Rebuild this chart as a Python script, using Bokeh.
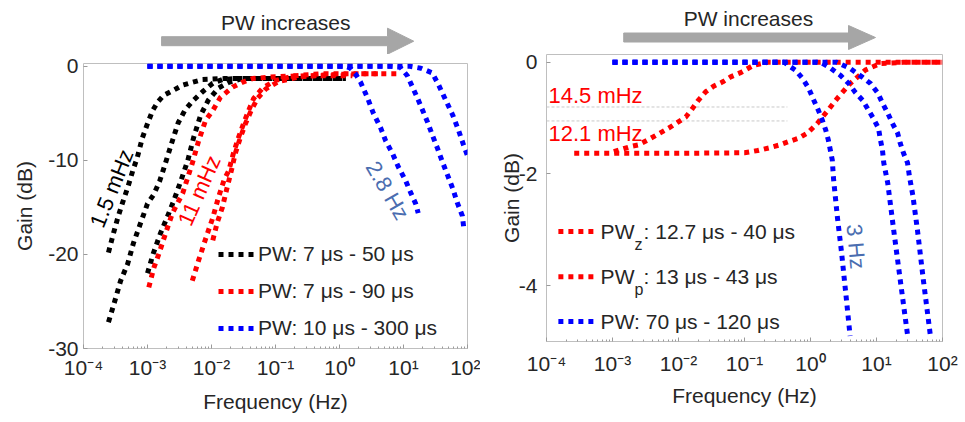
from bokeh.plotting import figure
from bokeh.layouts import row, column
from bokeh.models import (Range1d, FixedTicker, Label, Legend, LegendItem)
from bokeh.core.properties import value
from bokeh.embed import file_html
from bokeh.resources import INLINE

FONT = "Liberation Sans"
TXT = "#262626"
BLACK, RED, BLUE = "#000000", "#ff0000", "#0000ff"
LBLUE = "#4a6db0"
GRAY_ARROW = "#a6a6a6"

# ---------------- data: panel (a)  (log10 frequency, gain dB) ----------------
a_k1_lf = [-3.61, -3.53, -3.46, -3.39, -3.31, -3.23, -3.16, -3.08, -3.0, -2.92, -2.84,
           -2.75, -2.61, -2.45, -2.3, -2.14, -1.8, -1.0, 0.1]
a_k1_g = [-19.8, -17.7, -16.0, -14.5, -12.9, -11.1, -9.7, -7.6, -6.1, -4.7, -3.8,
          -3.1, -2.6, -2.0, -1.7, -1.4, -1.3, -1.3, -1.3]
a_k2_lf = [-3.61, -3.53, -3.42, -3.31, -3.22, -3.11, -3.0, -2.9, -2.81, -2.72, -2.61,
           -2.52, -2.41, -2.28, -2.14, -1.98, -1.83, -1.6, -1.0, 0.1]
a_k2_g = [-27.2, -25.4, -22.8, -21.0, -18.8, -16.7, -14.6, -13.6, -12.2, -10.3, -7.9,
          -6.0, -4.6, -3.6, -2.7, -1.8, -1.4, -1.3, -1.3, -1.3]
a_k3_lf = [-3.0, -2.91, -2.8, -2.69, -2.59, -2.48, -2.37, -2.28, -2.17, -2.05, -1.89,
           -1.73, -1.52, -1.0, 0.1]
a_k3_g = [-22.0, -19.9, -17.8, -16.0, -14.3, -12.2, -10.0, -7.6, -5.2, -3.6, -2.3,
          -1.7, -1.3, -1.3, -1.3]
a_r1_lf = [-2.98, -2.9, -2.82, -2.72, -2.61, -2.45, -2.3, -2.2, -2.09, -1.98, -1.86,
           -1.67, -1.52, -1.36, -1.0, -0.5, 0.2]
a_r1_g = [-23.5, -21.4, -19.9, -17.8, -15.6, -13.5, -10.3, -7.9, -5.7, -4.7, -3.3,
          -2.2, -1.7, -1.3, -1.1, -1.0, -1.0]
a_r2_lf = [-2.3, -2.2, -2.09, -1.98, -1.89, -1.8, -1.73, -1.66, -1.58, -1.5, -1.42,
           -1.34, -1.2, -1.0, -0.7, -0.3, 0.6]
a_r2_g = [-22.8, -20.6, -18.3, -16.1, -13.9, -12.0, -11.1, -9.3, -7.6, -6.1, -4.7,
          -3.4, -2.3, -1.5, -1.0, -0.8, -0.8]
a_r3_lf = [-1.98, -1.91, -1.83, -1.76, -1.69, -1.63, -1.55, -1.47, -1.38, -1.28,
           -1.15, -0.95, -0.6, -0.2, 0.3, 0.9]
a_r3_g = [-18.5, -16.6, -15.0, -13.0, -11.1, -9.3, -7.6, -6.1, -4.7, -3.4,
          -2.4, -1.6, -1.1, -0.9, -0.8, -0.8]
a_b1_lf = [-3.0, 0.1, 0.17, 0.25, 0.33, 0.44, 0.53, 0.64, 0.72, 0.83, 0.92, 1.03,
           1.11, 1.19, 1.23]
a_b1_g = [0.0, 0.0, -0.2, -0.8, -1.7, -3.4, -5.0, -6.5, -7.9, -9.3, -10.7, -12.1,
          -13.4, -14.6, -15.6]
a_b2_lf = [-3.0, 0.8, 0.95, 1.06, 1.14, 1.22, 1.3, 1.38, 1.45, 1.53, 1.61, 1.69,
           1.77, 1.84, 1.92, 1.94]
a_b2_g = [0.0, 0.0, -0.1, -1.0, -2.2, -3.4, -4.7, -6.0, -7.3, -8.7, -10.2, -11.6,
          -13.0, -14.5, -15.9, -17.1]
a_b3_lf = [-3.0, 1.1, 1.27, 1.45, 1.55, 1.66, 1.77, 1.86, 1.94, 2.0]
a_b3_g = [0.0, 0.0, -0.2, -0.7, -2.0, -3.6, -5.2, -6.8, -8.4, -9.5]

a_legend = ["PW: 7 μs - 50 μs", "PW: 7 μs - 90 μs", "PW: 10 μs - 300 μs"]

# ---------------- data: panel (b) ----------------
b_rz_lf = [-3.58, -2.0, -1.0, -0.8, -0.62, -0.47, -0.33, -0.18, -0.05, 0.1, 0.25,
           0.41, 0.6, 0.83, 1.06, 1.4, 2.0]
b_rz_g = [-1.63, -1.63, -1.62, -1.58, -1.53, -1.48, -1.42, -1.36, -1.27, -1.1, -0.88,
          -0.64, -0.38, -0.14, -0.02, 0.0, 0.0]
b_rp_lf = [-2.98, -2.73, -2.61, -2.45, -2.3, -2.15, -2.02, -1.89, -1.79, -1.7, -1.59,
           -1.47, -1.33, -1.21, -1.05, -0.86, -0.65, 2.0]
b_rp_g = [-1.6, -1.51, -1.48, -1.38, -1.28, -1.18, -1.08, -0.98, -0.83, -0.68, -0.53,
          -0.43, -0.35, -0.26, -0.18, -0.05, 0.0, 0.0]
b_b1_lf = [-3.0, -0.4, -0.23, -0.12, -0.03, 0.05, 0.12, 0.18, 0.23, 0.27, 0.30, 0.33,
           0.35, 0.41, 0.47, 0.54, 0.6]
b_b1_g = [0.0, 0.0, -0.14, -0.29, -0.46, -0.68, -0.86, -1.04, -1.21, -1.39, -1.57,
          -1.75, -2.1, -2.8, -3.4, -4.2, -4.9]
b_b2_lf = [-3.0, 0.1, 0.18, 0.30, 0.45, 0.58, 0.68, 0.79, 0.88, 0.95, 1.03, 1.06,
           1.09, 1.11, 1.17, 1.26, 1.36, 1.47]
b_b2_g = [0.0, 0.0, -0.02, -0.1, -0.23, -0.38, -0.54, -0.68, -0.86, -1.0, -1.18, -1.39,
          -1.57, -1.8, -2.16, -3.0, -3.9, -4.88]
b_b3_lf = [-3.0, 0.4, 0.6, 0.79, 0.91, 1.02, 1.09, 1.17, 1.24, 1.32, 1.36, 1.41,
           1.47, 1.50, 1.55, 1.62, 1.71, 1.82]
b_b3_g = [0.0, 0.0, -0.11, -0.27, -0.38, -0.55, -0.73, -0.91, -1.09, -1.27, -1.45,
          -1.63, -1.8, -2.05, -2.38, -3.0, -3.9, -4.93]
b_ref_g = [-0.80, -1.05]          # thin gray reference lines
b_ref_lf_end = -0.35

b_leg_main = ["PW", "PW", "PW: 70 μs - 120 μs"]
b_leg_sub = ["z", "p", ""]
b_leg_rest = [": 12.7 μs - 40 μs", ": 13 μs - 43 μs", ""]
b_leg_colors = [RED, RED, BLUE]
b_leg_g = [-3.03, -3.84, -4.64]

x_ticks = [1e-4, 1e-3, 1e-2, 1e-1, 1, 10, 100]
x_tick_labels = ["10⁻⁴", "10⁻³", "10⁻²", "10⁻¹", "10⁰", "10¹", "10²"]
a_y_ticks = [0, -10, -20, -30]
a_y_labels = ["0", "-10", "-20", "-30"]
b_y_ticks = [0, -2, -4]
b_y_labels = ["0", "-2", "-4"]

# "PW increases" arrows (log10 f of start / head base / tip, centre height)
TOP_A = 54
TOP_B = 50
arrow_a = dict(start=-2.78, base=0.75, tip=1.16, y=TOP_A - 40.7, half=13,
               text_lf=-0.84, text_y=TOP_A - 22)
arrow_b = dict(start=-2.83, base=0.576, tip=0.985, y=TOP_B - 37, half=12,
               text_lf=-0.94, text_y=TOP_B - 18)

DASH = "5 5"
LW = 5
ANN = "22px"


def f(lfs):
    return [10 ** v for v in lfs]


def style(p, yticks, ylabels):
    p.grid.visible = False
    p.outline_line_color = "#bfbfbf"
    p.outline_line_width = 1
    p.background_fill_color = "white"
    p.border_fill_color = "white"
    minors = [m * 10 ** e for e in range(-4, 2) for m in range(2, 10)]
    p.xaxis.ticker = FixedTicker(ticks=x_ticks, minor_ticks=minors)
    p.xaxis.major_label_overrides = dict(zip(x_ticks, x_tick_labels))
    p.yaxis.ticker = FixedTicker(ticks=yticks)
    p.yaxis.major_label_overrides = dict(zip(yticks, ylabels))
    for ax in (p.xaxis[0], p.yaxis[0]):
        ax.axis_line_color = None
        ax.major_tick_line_color = "#9a9a9a"
        ax.minor_tick_line_color = "#9a9a9a"
        ax.major_tick_in = 4
        ax.major_tick_out = 0
        ax.minor_tick_in = 2
        ax.minor_tick_out = 0
        ax.major_label_text_font = FONT
        ax.major_label_text_font_size = "21px"
        ax.major_label_text_color = TXT
        ax.axis_label_text_font = FONT
        ax.axis_label_text_font_size = "21px"
        ax.axis_label_text_font_style = "normal"
        ax.axis_label_text_color = TXT
    p.yaxis.minor_tick_line_color = None
    p.xaxis.axis_label = "Frequency (Hz)"
    p.yaxis.axis_label = "Gain (dB)"


def dotted(p, lf, g, color):
    return p.line(f(lf), g, line_color=color, line_width=LW, line_dash=DASH,
                  line_cap="butt", line_join="round")


def top_arrow(width, height, x_range, bl, br, spec):
    t = figure(width=width, height=height, x_axis_type="log", x_range=x_range,
               y_range=Range1d(0, height), output_backend="svg", toolbar_location=None,
               x_axis_location=None, y_axis_location=None,
               min_border_left=bl, min_border_right=br, min_border_top=0,
               min_border_bottom=0)
    t.grid.visible = False
    t.outline_line_color = None
    s, b, tp, y, h = spec["start"], spec["base"], spec["tip"], spec["y"], spec["half"]
    xs = f([s, b, b, tp, b, b, s])
    ys = [y - 4.5, y - 4.5, y - h, y, y + h, y + 4.5, y + 4.5]
    t.patch(xs, ys, fill_color=GRAY_ARROW, line_color=GRAY_ARROW, line_width=1)
    t.text(x=[10 ** spec["text_lf"]], y=[spec["text_y"]], text=["PW increases"],
           text_align="center", text_baseline="middle", text_color=TXT,
           text_font=value(FONT), text_font_size="21px")
    return t


# ================= panel (a) =================
xr_a = Range1d(1e-4, 1e2)
pa = figure(width=480, height=422 - TOP_A, x_axis_type="log",
            x_range=xr_a, y_range=Range1d(-30, 0.3),
            output_backend="svg", toolbar_location=None,
            min_border_left=83, min_border_right=13, min_border_top=9,
            min_border_bottom=74)
style(pa, a_y_ticks, a_y_labels)
pa.xaxis.major_label_standoff = 7
pa.xaxis.axis_label_standoff = 8
pa.yaxis.major_label_standoff = 5
pa.yaxis.axis_label_standoff = 9

rk = [dotted(pa, lf, g, BLACK) for lf, g in
      [(a_k1_lf, a_k1_g), (a_k2_lf, a_k2_g), (a_k3_lf, a_k3_g)]]
rr = [dotted(pa, lf, g, RED) for lf, g in
      [(a_r1_lf, a_r1_g), (a_r2_lf, a_r2_g), (a_r3_lf, a_r3_g)]]
rb = [dotted(pa, lf, g, BLUE) for lf, g in
      [(a_b1_lf, a_b1_g), (a_b2_lf, a_b2_g), (a_b3_lf, a_b3_g)]]

leg_a = Legend(items=[LegendItem(label=a_legend[0], renderers=[rk[0]]),
                      LegendItem(label=a_legend[1], renderers=[rr[0]]),
                      LegendItem(label=a_legend[2], renderers=[rb[0]])],
               location=(135, 5), background_fill_alpha=0, border_line_alpha=0,
               label_text_font=FONT, label_text_font_size="21px",
               label_text_color=TXT, glyph_width=38, glyph_height=30,
               label_height=30, spacing=7, padding=0, margin=0, label_standoff=2)
pa.add_layout(leg_a)

pa.text(x=[10 ** -3.56], y=[-12.98], text=["1.5 mHz"], angle=68, angle_units="deg",
        text_align="center", text_baseline="middle", text_color=BLACK,
        text_font=value(FONT), text_font_size=ANN)
pa.text(x=[10 ** -2.19], y=[-13.2], text=["11 mHz"], angle=66, angle_units="deg",
        text_align="center", text_baseline="middle", text_color=RED,
        text_font=value(FONT), text_font_size=ANN)
pa.text(x=[10 ** 0.75], y=[-13.2], text=["2.8 Hz"], angle=-60, angle_units="deg",
        text_align="center", text_baseline="middle", text_color=LBLUE,
        text_font=value(FONT), text_font_size=ANN)
pa.add_layout(Label(x=10 ** -5.11, y=-35.85, text="(a)", text_align="left",
                    text_baseline="middle", text_font=FONT, text_font_size="20px",
                    text_color=TXT))

ta = top_arrow(480, TOP_A, xr_a, 83, 13, arrow_a)

# ================= panel (b) =================
xr_b = Range1d(1e-4, 1e2)
pb = figure(width=485, height=422 - TOP_B, x_axis_type="log",
            x_range=xr_b, y_range=Range1d(-5, 0.14),
            output_backend="svg", toolbar_location=None,
            min_border_left=66, min_border_right=23, min_border_top=54 - TOP_B,
            min_border_bottom=81)
style(pb, b_y_ticks, b_y_labels)
pb.xaxis.major_label_standoff = 10
pb.xaxis.axis_label_standoff = 6
pb.yaxis.major_label_standoff = 9
pb.yaxis.axis_label_standoff = -7

for gval in b_ref_g:
    pb.line([1e-4, 10 ** b_ref_lf_end], [gval, gval], line_color="#c8c8c8",
            line_width=1, line_dash="3 2")

dotted(pb, b_rz_lf, b_rz_g, RED)
dotted(pb, b_rp_lf, b_rp_g, RED)
dotted(pb, b_b1_lf, b_b1_g, BLUE)
dotted(pb, b_b2_lf, b_b2_g, BLUE)
dotted(pb, b_b3_lf, b_b3_g, BLUE)

# legend (b), drawn by hand so that the subscripts can be shown
for gval, col in zip(b_leg_g, b_leg_colors):
    pb.line([10 ** -3.82, 10 ** -3.23], [gval, gval], line_color=col, line_width=LW,
            line_dash=DASH, line_cap="butt")
pb.text(x=[10 ** -3.18] * 3, y=b_leg_g, text=b_leg_main, text_align="left",
        text_baseline="middle", text_color=TXT, text_font=value(FONT),
        text_font_size="21px")
pb.text(x=[10 ** -3.18] * 3, y=b_leg_g, text=b_leg_sub, x_offset=34, y_offset=13,
        text_align="left", text_baseline="middle", text_color=TXT,
        text_font=value(FONT), text_font_size="16px")
pb.text(x=[10 ** -3.18] * 3, y=b_leg_g, text=b_leg_rest, x_offset=43,
        text_align="left", text_baseline="middle", text_color=TXT,
        text_font=value(FONT), text_font_size="21px")

pb.text(x=[10 ** -3.97, 10 ** -3.97], y=[-0.59, -1.27], text=["14.5 mHz", "12.1 mHz"],
        text_align="left", text_baseline="middle", text_color=RED,
        text_font=value(FONT), text_font_size=ANN)
pb.text(x=[10 ** 0.69], y=[-3.30], text=["3 Hz"], angle=-85, angle_units="deg",
        text_align="center", text_baseline="middle", text_color=LBLUE,
        text_font=value(FONT), text_font_size=ANN)
pb.add_layout(Label(x=10 ** -4.97, y=-6.11, text="(b)", text_align="left",
                    text_baseline="middle", text_font=FONT, text_font_size="20px",
                    text_color=TXT))

tb = top_arrow(485, TOP_B, xr_b, 66, 23, arrow_b)

layout = row(column(ta, pa), column(tb, pb))
open("out.html", "w").write(file_html(layout, INLINE))
